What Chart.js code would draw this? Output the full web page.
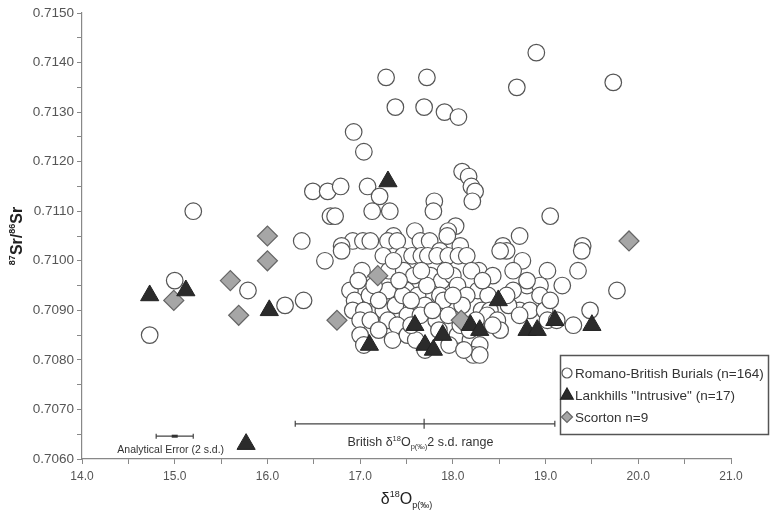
<!DOCTYPE html>
<html>
<head>
<meta charset="utf-8"/>
<title>Sr - O isotope plot</title>
<script src="https://cdn.jsdelivr.net/npm/chart.js@4.4.0/dist/chart.umd.min.js"></script>
<style>
html,body{margin:0;padding:0;background:#fff;}
</style>
</head>
<body>
<canvas id="result" width="772" height="514"></canvas>
<script>
// series names (legend)
var seriesNames = ['Romano-British Burials (n=164)', 'Lankhills "Intrusive" (n=17)', 'Scorton n=9'];

// [d18Op, 87Sr/86Sr]
var romanoBritish = [
 [18.90,0.7142],[18.69,0.7135],[19.73,0.7136],[17.28,0.7137],[17.72,0.7137],[17.38,0.7131],[17.69,0.7131],[17.91,0.7130],[18.06,0.7129],[16.93,0.7126],[17.04,0.7122],
 [18.10,0.7118],[18.17,0.7117],[18.20,0.7115],[18.24,0.7114],[18.21,0.7112],
 [16.49,0.7114],[16.65,0.7114],[16.79,0.7115],[17.08,0.7115],[17.21,0.7113],[17.80,0.7112],[17.79,0.7110],[15.20,0.7110],[16.68,0.7109],[16.73,0.7109],[17.13,0.7110],[17.32,0.7110],[19.05,0.7109],
 [18.03,0.7107],[17.59,0.7106],[17.95,0.7106],[18.72,0.7105],[16.37,0.7104],[16.92,0.7104],[17.03,0.7104],[17.11,0.7104],[17.36,0.7105],[17.30,0.7104],[17.65,0.7104],[17.75,0.7104],[18.08,0.7103],[17.94,0.7105],[18.54,0.7103],[18.58,0.7102],[19.40,0.7103],[16.80,0.7103],[17.86,0.7102],
 [16.62,0.7100],[16.80,0.7102],[17.25,0.7101],[17.40,0.7104],[17.46,0.7101],[17.56,0.7101],[17.66,0.7101],[17.73,0.7101],[17.83,0.7101],[17.95,0.7101],[18.06,0.7101],[18.15,0.7101],[18.28,0.7098],[18.75,0.7100],[19.39,0.7102],[18.51,0.7102],
 [17.02,0.7098],[17.31,0.7098],[17.47,0.7098],[17.58,0.7097],[17.76,0.7097],[17.88,0.7096],[18.00,0.7097],[18.20,0.7098],[18.43,0.7097],[18.65,0.7098],[19.02,0.7098],[19.35,0.7098],
 [16.89,0.7094],[16.94,0.7092],[17.10,0.7093],[17.30,0.7094],[17.50,0.7094],[17.62,0.7093],[17.72,0.7095],[17.86,0.7093],[18.05,0.7095],[18.27,0.7094],[18.38,0.7093],[18.15,0.7093],[18.80,0.7095],[18.94,0.7095],[19.18,0.7095],[19.77,0.7094],[18.65,0.7094],[18.80,0.7096],[18.94,0.7093],[15.79,0.7094],[15.00,0.7096],[16.19,0.7091],[16.39,0.7092],
 [16.92,0.7090],[17.04,0.7090],[17.25,0.7090],[17.38,0.7091],[17.58,0.7090],[17.70,0.7091],[17.90,0.7092],[18.10,0.7091],[18.31,0.7090],[18.40,0.7090],[18.72,0.7090],[18.83,0.7090],[18.99,0.7090],[19.48,0.7090],[18.37,0.7089],[18.60,0.7091],[19.05,0.7092],[17.46,0.7093],
 [17.00,0.7088],[17.11,0.7088],[17.30,0.7088],[17.51,0.7089],[17.82,0.7088],[17.95,0.7089],[18.48,0.7088],[18.51,0.7086],[18.43,0.7087],[18.72,0.7089],[19.02,0.7088],[19.12,0.7088],[19.30,0.7087],[17.40,0.7087],[18.25,0.7088],
 [17.00,0.7085],[17.35,0.7084],[17.51,0.7085],[18.05,0.7085],[18.19,0.7084],[18.29,0.7083],[18.22,0.7081],[18.29,0.7081],[17.60,0.7084],[17.96,0.7083],[17.04,0.7083],[17.70,0.7082],[18.12,0.7082],
 [14.73,0.7085],
 [17.15,0.7095],[17.20,0.7092],[17.42,0.7096],[17.55,0.7092],[17.65,0.7089],[17.78,0.7090],[17.92,0.7098],[18.00,0.7093],[18.08,0.7087],[18.18,0.7086],[17.66,0.7098],[17.36,0.7100],[17.85,0.7086],[17.20,0.7086],[16.98,0.7096],[18.32,0.7096],[18.58,0.7093],[17.55,0.7087]
];

var lankhills = [
 [14.73,0.7093],[15.12,0.7094],[15.77,0.7063],[16.02,0.7090],[17.30,0.7116],[17.10,0.7083],[17.59,0.7087],[17.70,0.7083],[17.79,0.7082],
 [17.89,0.7085],[18.19,0.7087],[18.29,0.7086],[18.49,0.7092],[18.80,0.7086],[18.91,0.7086],[19.10,0.7088],[19.50,0.7087]
];

var scorton = [
 [14.99,0.7092],[15.60,0.7096],[15.69,0.7089],[16.00,0.7105],[16.00,0.7100],[16.75,0.7088],[17.19,0.7097],[18.09,0.7088],[19.90,0.7104]
];

// annotations: [left, centre, right] at a given Sr value
var britishRange = [16.30, 17.69, 19.10];
var britishRangeY = 0.70671;
var analyticalError = [14.80, 15.00, 15.20];
var analyticalErrorY = 0.70646;

function toPts(a){ return a.map(function(p){ return {x:p[0], y:p[1]}; }); }

var FONT = '"Liberation Sans", Arial, sans-serif';

function richText(ctx, parts, x, y, align){
  var w = 0, i;
  for(i = 0; i < parts.length; i++){
    ctx.font = (parts[i].bold ? 'bold ' : '') + parts[i].size + 'px ' + FONT;
    parts[i].w = ctx.measureText(parts[i].t).width;
    w += parts[i].w;
  }
  var cx = align === 'center' ? x - w / 2 : x;
  ctx.textAlign = 'left';
  ctx.textBaseline = 'alphabetic';
  for(i = 0; i < parts.length; i++){
    ctx.font = (parts[i].bold ? 'bold ' : '') + parts[i].size + 'px ' + FONT;
    ctx.fillText(parts[i].t, cx, y + (parts[i].dy || 0));
    cx += parts[i].w;
  }
}

function marker(ctx, type, x, y, r){
  ctx.beginPath();
  if(type === 'circle'){
    ctx.arc(x, y, r, 0, Math.PI * 2);
    ctx.fillStyle = '#fff'; ctx.strokeStyle = '#555';
  }else if(type === 'triangle'){
    ctx.moveTo(x, y - r); ctx.lineTo(x + r * 0.9, y + r * 0.6); ctx.lineTo(x - r * 0.9, y + r * 0.6); ctx.closePath();
    ctx.fillStyle = '#2b2b2b'; ctx.strokeStyle = '#222';
  }else{
    ctx.moveTo(x, y - r); ctx.lineTo(x + r, y); ctx.lineTo(x, y + r); ctx.lineTo(x - r, y); ctx.closePath();
    ctx.fillStyle = '#a6a6a6'; ctx.strokeStyle = '#666';
  }
  ctx.lineWidth = 1.2;
  ctx.fill(); ctx.stroke();
}

var extras = {
  id: 'extras',
  afterDraw: function(chart){
    var ctx = chart.ctx, xs = chart.scales.x, ys = chart.scales.y;
    ctx.save();
    ctx.strokeStyle = '#444'; ctx.lineWidth = 1.2;

    // British 2 s.d. range bar
    var yb = ys.getPixelForValue(britishRangeY);
    var b0 = xs.getPixelForValue(britishRange[0]), b1 = xs.getPixelForValue(britishRange[1]), b2 = xs.getPixelForValue(britishRange[2]);
    ctx.beginPath();
    ctx.moveTo(b0, yb); ctx.lineTo(b2, yb);
    ctx.moveTo(b0, yb - 3); ctx.lineTo(b0, yb + 3);
    ctx.moveTo(b2, yb - 3); ctx.lineTo(b2, yb + 3);
    ctx.moveTo(b1, yb - 5); ctx.lineTo(b1, yb + 5);
    ctx.stroke();
    ctx.fillStyle = '#333';
    richText(ctx, [
      {t:'British \u03B4', size:12.5},
      {t:'18', size:7.5, dy:-5},
      {t:'O', size:12.5},
      {t:'p(\u2030)', size:7.5, dy:3},
      {t:'2 s.d. range', size:12.5}
    ], xs.getPixelForValue(17.65), yb + 22, 'center');

    // analytical error bar
    var ya = ys.getPixelForValue(analyticalErrorY);
    var a0 = xs.getPixelForValue(analyticalError[0]), a1 = xs.getPixelForValue(analyticalError[1]), a2 = xs.getPixelForValue(analyticalError[2]);
    ctx.beginPath();
    ctx.moveTo(a0, ya); ctx.lineTo(a2, ya);
    ctx.moveTo(a0, ya - 2.5); ctx.lineTo(a0, ya + 2.5);
    ctx.moveTo(a2, ya - 2.5); ctx.lineTo(a2, ya + 2.5);
    ctx.stroke();
    ctx.fillStyle = '#333';
    ctx.fillRect(a1 - 3, ya - 1.5, 6, 3);
    ctx.font = '10.5px ' + FONT;
    ctx.textAlign = 'center'; ctx.textBaseline = 'middle';
    ctx.fillText('Analytical Error (2 s.d.)', a1 - 4, ya + 14);

    // legend box
    ctx.fillStyle = '#fff';
    ctx.fillRect(560, 355, 209, 80);
    ctx.strokeStyle = '#555'; ctx.lineWidth = 1.5;
    ctx.strokeRect(560.5, 355.5, 208, 79);
    var types = ['circle', 'triangle', 'diamond'], rs = [5, 7, 5.5], rowY = [373, 395, 417];
    for(var i = 0; i < 3; i++){
      marker(ctx, types[i], 567, rowY[i], rs[i]);
      ctx.fillStyle = '#333';
      ctx.font = '13.5px ' + FONT;
      ctx.textAlign = 'left'; ctx.textBaseline = 'middle';
      ctx.fillText(seriesNames[i], 575, rowY[i] + 1);
    }

    // axis titles
    ctx.fillStyle = '#222';
    richText(ctx, [
      {t:'\u03B4', size:16},
      {t:'18', size:9, dy:-7},
      {t:'O', size:16},
      {t:'p(\u2030)', size:9, dy:4}
    ], (xs.left + xs.right) / 2, 504, 'center');

    ctx.save();
    ctx.translate(22, (ys.top + ys.bottom) / 2);
    ctx.rotate(-Math.PI / 2);
    richText(ctx, [
      {t:'87', size:9, dy:-7, bold:true},
      {t:'Sr/', size:16, bold:true},
      {t:'86', size:9, dy:-7, bold:true},
      {t:'Sr', size:16, bold:true}
    ], 0, 0, 'center');
    ctx.restore();

    ctx.restore();
  }
};

new Chart(document.getElementById('result'), {
  type: 'scatter',
  data: {
    datasets: [
      { label: seriesNames[0], data: toPts(romanoBritish), order: 3,
        pointStyle: 'circle', pointRadius: 8.3, backgroundColor: '#fff', borderColor: '#555', borderWidth: 1.2 },
      { label: seriesNames[1], data: toPts(lankhills), order: 1,
        pointStyle: 'triangle', pointRadius: 10.5, backgroundColor: '#2b2b2b', borderColor: '#222', borderWidth: 1 },
      { label: seriesNames[2], data: toPts(scorton), order: 2,
        pointStyle: 'rectRot', pointRadius: 10, backgroundColor: '#a6a6a6', borderColor: '#666', borderWidth: 1.2 }
    ]
  },
  options: {
    responsive: false,
    animation: false,
    events: [],
    layout: { padding: { left: 0, right: 41, top: 13, bottom: 0 } },
    plugins: { legend: { display: false }, tooltip: { enabled: false } },
    scales: {
      x: {
        type: 'linear', min: 14, max: 21,
        border: { color: '#888', width: 1.2 },
        grid: { drawOnChartArea: false, drawTicks: true, tickLength: 5, color: '#888' },
        ticks: { stepSize: 0.5, autoSkip: false, maxRotation: 0, color: '#555', font: { family: FONT, size: 12 }, padding: 5,
          callback: function(v){ return Math.round(v * 2) % 2 === 0 ? v.toFixed(1) : ''; } },
        afterFit: function(s){ s.height = 55; }
      },
      y: {
        type: 'linear', min: 0.706, max: 0.715,
        border: { color: '#888', width: 1.2 },
        grid: { drawOnChartArea: false, drawTicks: true, tickLength: 5, color: '#888' },
        ticks: { stepSize: 0.0005, autoSkip: false, color: '#555', font: { family: FONT, size: 13.5 }, padding: 3,
          callback: function(v){ return Math.round(v * 2000) % 2 === 0 ? v.toFixed(4) : ''; } },
        afterFit: function(s){ s.width = 82; }
      }
    }
  },
  plugins: [extras]
});
</script>
</body>
</html>
